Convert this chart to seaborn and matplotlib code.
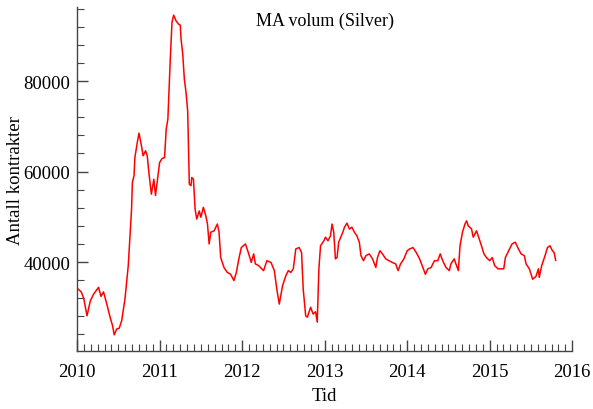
import numpy as np
import pandas as pd
import seaborn as sns
import matplotlib.pyplot as plt
from matplotlib.ticker import MultipleLocator

# decimal year and moving-average volume
years = [
    2010.00, 2010.05, 2010.08, 2010.12, 2010.16, 2010.20, 2010.26, 2010.29, 2010.32, 2010.36,
    2010.40, 2010.43, 2010.45, 2010.48, 2010.51, 2010.54, 2010.58, 2010.62, 2010.64, 2010.66,
    2010.67, 2010.69, 2010.70, 2010.73, 2010.75, 2010.78, 2010.80, 2010.83, 2010.85, 2010.87,
    2010.90, 2010.93, 2010.95, 2010.97, 2011.00, 2011.03, 2011.06, 2011.08, 2011.10, 2011.11,
    2011.13, 2011.15, 2011.17, 2011.20, 2011.23, 2011.25, 2011.26, 2011.28, 2011.30, 2011.32,
    2011.34, 2011.35, 2011.36, 2011.38, 2011.39, 2011.41, 2011.43, 2011.45, 2011.48, 2011.50,
    2011.53, 2011.56, 2011.58, 2011.60, 2011.62, 2011.66, 2011.70, 2011.72, 2011.74, 2011.78,
    2011.82, 2011.86, 2011.90, 2011.93, 2011.96, 2011.99, 2012.04, 2012.08, 2012.11, 2012.14,
    2012.16, 2012.20, 2012.26, 2012.30, 2012.35, 2012.39, 2012.42, 2012.45, 2012.49, 2012.53,
    2012.56, 2012.59, 2012.62, 2012.65, 2012.69, 2012.72, 2012.74, 2012.77, 2012.79, 2012.83,
    2012.86, 2012.89, 2012.91, 2012.93, 2012.95, 2012.99, 2013.01, 2013.04, 2013.07, 2013.09,
    2013.11, 2013.13, 2013.15, 2013.17, 2013.22, 2013.24, 2013.27, 2013.30, 2013.33, 2013.36,
    2013.39, 2013.42, 2013.44, 2013.47, 2013.50, 2013.54, 2013.58, 2013.62, 2013.64, 2013.67,
    2013.70, 2013.74, 2013.78, 2013.82, 2013.86, 2013.89, 2013.92, 2013.96, 2014.00, 2014.03,
    2014.07, 2014.11, 2014.15, 2014.19, 2014.22, 2014.25, 2014.29, 2014.33, 2014.37, 2014.40,
    2014.43, 2014.47, 2014.51, 2014.53, 2014.57, 2014.59, 2014.62, 2014.64, 2014.67, 2014.70,
    2014.72, 2014.74, 2014.78, 2014.80, 2014.84, 2014.86, 2014.90, 2014.93, 2014.96, 2015.00,
    2015.03, 2015.06, 2015.10, 2015.14, 2015.17, 2015.19, 2015.23, 2015.27, 2015.31, 2015.34,
    2015.38, 2015.42, 2015.44, 2015.48, 2015.52, 2015.56, 2015.59, 2015.60, 2015.63, 2015.67,
    2015.70, 2015.73, 2015.76, 2015.78, 2015.80,
]
volume = [
    34200, 33400, 32000, 28100, 31400, 32900, 34400, 32400, 33400, 30700,
    27800, 25900, 23900, 25200, 25350, 27000, 31800, 39200, 45500, 51700,
    57600, 59100, 63100, 66500, 68500, 65700, 63500, 64600, 63500, 59800,
    55000, 58300, 54700, 57600, 62000, 62900, 63100, 69400, 71600, 76000,
    85200, 93000, 94600, 93300, 92600, 92400, 89300, 86000, 80400, 77500,
    73400, 65300, 57200, 56900, 58700, 58300, 51700, 49500, 51300, 49900,
    52100, 50200, 48400, 44000, 46600, 46900, 48400, 46600, 41000, 38800,
    37700, 37300, 35900, 37700, 40700, 43200, 44000, 41800, 39900, 41800,
    39600, 39200, 38100, 40300, 39900, 38100, 34000, 30700, 34800, 37000,
    38100, 37700, 38500, 42900, 43200, 42100, 34000, 28100, 27800, 30000,
    28500, 29000, 26700, 38500, 43600, 44700, 45500, 44700, 45800, 48400,
    46600, 40700, 41000, 44400, 46600, 47700, 48600, 47300, 47700, 46600,
    45800, 44400, 41400, 40300, 41400, 41800, 40700, 38800, 41000, 42500,
    41800, 40700, 40300, 39900, 39600, 38100, 39600, 40700, 42500, 42900,
    43200, 42100, 40700, 38800, 37300, 38500, 38800, 40300, 40300, 41800,
    40300, 38800, 38100, 39600, 40700, 39600, 38100, 43600, 46600, 48400,
    49100, 48000, 47300, 45500, 46900, 45800, 43600, 41800, 41000, 40300,
    41000, 39200, 38500, 38500, 38500, 41000, 42500, 44000, 44400, 43200,
    41800, 41400, 39600, 38500, 36200, 36800, 38500, 36600, 39200, 41400,
    43200, 43600, 42500, 42100, 40300,
]
year_ticks = [2010, 2011, 2012, 2013, 2014, 2015, 2016]
volume_ticks = [40000, 60000, 80000]

df = pd.DataFrame({"Tid": years, "volum": volume})

sns.set_style("ticks")
plt.rcParams["font.family"] = ["Liberation Serif", "DejaVu Serif"]

fig = plt.figure(figsize=(5.93, 4.10), dpi=100)
ax = fig.add_axes([0.13, 0.1415, 0.835, 0.8385])

sns.lineplot(data=df, x="Tid", y="volum", color="red", linewidth=1.1,
             estimator=None, sort=False, ax=ax)

ax.set_xlim(2010, 2016)
ax.set_ylim(20330, 96350)
ax.set_xticks(year_ticks)
ax.set_xticklabels([str(y) for y in year_ticks])
ax.set_yticks(volume_ticks)
ax.set_yticklabels([str(v) for v in volume_ticks])
ax.xaxis.set_minor_locator(MultipleLocator(1 / 12))
ax.yaxis.set_minor_locator(MultipleLocator(4000))

axis_col = "#444444"
for side in ["top", "right"]:
    ax.spines[side].set_visible(False)
for side in ["left", "bottom"]:
    ax.spines[side].set_color(axis_col)
    ax.spines[side].set_linewidth(1.0)

ax.tick_params(which="major", direction="in", length=8, width=1.0, color=axis_col,
               labelsize=13.5, labelcolor="black")
ax.tick_params(which="minor", direction="in", length=5, width=0.8, color=axis_col)
ax.tick_params(axis="x", which="major", pad=9)
ax.tick_params(axis="y", which="major", pad=5)

ax.set_xlabel("Tid", fontsize=13.5, labelpad=5, color="black")
ax.set_ylabel("Antall kontrakter", fontsize=13.5, color="black")
ax.yaxis.set_label_coords(-0.107, 0.5)
ax.text(0.5, 0.988, "MA volum (Silver)", transform=ax.transAxes,
        ha="center", va="top", fontsize=13, color="black")

fig.savefig("out.png", dpi=100)
